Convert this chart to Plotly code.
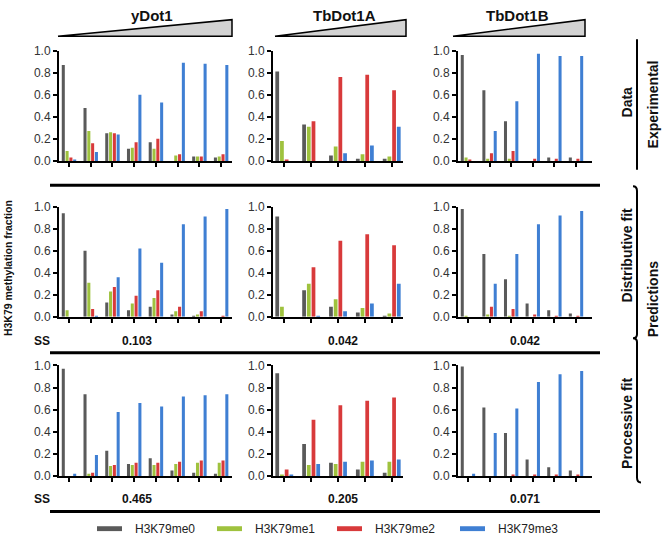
import plotly.graph_objects as go

# ---------------- data ----------------
enzymes = ["yDot1", "TbDot1A", "TbDot1B"]
series_names = ["H3K79me0", "H3K79me1", "H3K79me2", "H3K79me3"]
series_colors = ["#5a5a5a", "#9fc23e", "#d83a3b", "#3f7fd3"]
ss_distributive = ["0.103", "0.042", "0.042"]
ss_processive = ["0.465", "0.205", "0.071"]
y_ticks = [0.0, 0.2, 0.4, 0.6, 0.8, 1.0]

# yDot1 - experimental data
ydot1_data_me0 = [0.87, 0.48, 0.25, 0.11, 0.17, 0.00, 0.04, 0.03]
ydot1_data_me1 = [0.09, 0.27, 0.26, 0.12, 0.11, 0.05, 0.04, 0.04]
ydot1_data_me2 = [0.03, 0.16, 0.25, 0.17, 0.20, 0.06, 0.04, 0.06]
ydot1_data_me3 = [0.01, 0.08, 0.24, 0.60, 0.53, 0.89, 0.88, 0.87]
# TbDot1A - experimental data
tbdot1a_data_me0 = [0.81, 0.33, 0.05, 0.02, 0.02]
tbdot1a_data_me1 = [0.18, 0.31, 0.13, 0.06, 0.04]
tbdot1a_data_me2 = [0.01, 0.36, 0.76, 0.78, 0.64]
tbdot1a_data_me3 = [0.00, 0.00, 0.07, 0.14, 0.31]
# TbDot1B - experimental data
tbdot1b_data_me0 = [0.96, 0.64, 0.36, 0.00, 0.03, 0.03]
tbdot1b_data_me1 = [0.03, 0.02, 0.02, 0.00, 0.00, 0.00]
tbdot1b_data_me2 = [0.01, 0.07, 0.09, 0.02, 0.02, 0.02]
tbdot1b_data_me3 = [0.00, 0.27, 0.54, 0.97, 0.95, 0.95]

# yDot1 - distributive fit
ydot1_dist_me0 = [0.94, 0.60, 0.13, 0.06, 0.09, 0.02, 0.01, 0.00]
ydot1_dist_me1 = [0.06, 0.31, 0.23, 0.12, 0.17, 0.05, 0.02, 0.00]
ydot1_dist_me2 = [0.00, 0.07, 0.27, 0.19, 0.24, 0.09, 0.05, 0.01]
ydot1_dist_me3 = [0.00, 0.01, 0.36, 0.62, 0.49, 0.84, 0.91, 0.98]
# TbDot1A - distributive fit
tbdot1a_dist_me0 = [0.91, 0.24, 0.09, 0.04, 0.01]
tbdot1a_dist_me1 = [0.09, 0.30, 0.16, 0.08, 0.03]
tbdot1a_dist_me2 = [0.00, 0.45, 0.69, 0.75, 0.65]
tbdot1a_dist_me3 = [0.00, 0.01, 0.05, 0.12, 0.30]
# TbDot1B - distributive fit
tbdot1b_dist_me0 = [0.98, 0.57, 0.34, 0.12, 0.06, 0.03]
tbdot1b_dist_me1 = [0.01, 0.02, 0.01, 0.00, 0.00, 0.00]
tbdot1b_dist_me2 = [0.00, 0.09, 0.07, 0.02, 0.01, 0.005]
tbdot1b_dist_me3 = [0.00, 0.30, 0.57, 0.84, 0.92, 0.96]

# yDot1 - processive fit
ydot1_proc_me0 = [0.97, 0.74, 0.23, 0.11, 0.16, 0.05, 0.03, 0.02]
ydot1_proc_me1 = [0.00, 0.02, 0.09, 0.10, 0.10, 0.11, 0.12, 0.12]
ydot1_proc_me2 = [0.00, 0.03, 0.10, 0.12, 0.12, 0.13, 0.14, 0.14]
ydot1_proc_me3 = [0.02, 0.19, 0.58, 0.66, 0.63, 0.72, 0.73, 0.74]
# TbDot1A - processive fit
tbdot1a_proc_me0 = [0.93, 0.29, 0.12, 0.06, 0.03]
tbdot1a_proc_me1 = [0.01, 0.10, 0.11, 0.13, 0.13]
tbdot1a_proc_me2 = [0.06, 0.51, 0.64, 0.68, 0.71]
tbdot1a_proc_me3 = [0.01, 0.11, 0.13, 0.14, 0.15]
# TbDot1B - processive fit
tbdot1b_proc_me0 = [0.99, 0.62, 0.39, 0.15, 0.08, 0.05]
tbdot1b_proc_me1 = [0.00, 0.00, 0.00, 0.00, 0.00, 0.00]
tbdot1b_proc_me2 = [0.00, 0.00, 0.01, 0.01, 0.01, 0.01]
tbdot1b_proc_me3 = [0.02, 0.39, 0.61, 0.85, 0.92, 0.95]

panels = [
    [[ydot1_data_me0, ydot1_data_me1, ydot1_data_me2, ydot1_data_me3],
     [tbdot1a_data_me0, tbdot1a_data_me1, tbdot1a_data_me2, tbdot1a_data_me3],
     [tbdot1b_data_me0, tbdot1b_data_me1, tbdot1b_data_me2, tbdot1b_data_me3]],
    [[ydot1_dist_me0, ydot1_dist_me1, ydot1_dist_me2, ydot1_dist_me3],
     [tbdot1a_dist_me0, tbdot1a_dist_me1, tbdot1a_dist_me2, tbdot1a_dist_me3],
     [tbdot1b_dist_me0, tbdot1b_dist_me1, tbdot1b_dist_me2, tbdot1b_dist_me3]],
    [[ydot1_proc_me0, ydot1_proc_me1, ydot1_proc_me2, ydot1_proc_me3],
     [tbdot1a_proc_me0, tbdot1a_proc_me1, tbdot1a_proc_me2, tbdot1a_proc_me3],
     [tbdot1b_proc_me0, tbdot1b_proc_me1, tbdot1b_proc_me2, tbdot1b_proc_me3]],
]

# ---------------- layout helpers ----------------
W, H = 662, 542
FONT = "Liberation Sans, Arial, sans-serif"


def X(px):
    return px / W


def Y(py):
    return 1 - py / H


col_px = [(59, 232), (273, 403), (458, 592)]
row_px = [(44.7, 158), (205, 318), (368, 481.5)]
col_xrange_end_pad = [0.5, 0.42, 0.74]
col_xrange_start_pad = [0.46, 0.42, 0.46]

fig = go.Figure()

for r in range(3):
    for c in range(3):
        idx = r * 3 + c + 1
        xa = "x" if idx == 1 else f"x{idx}"
        ya = "y" if idx == 1 else f"y{idx}"
        series = panels[r][c]
        n = len(series[0])
        for s, vals in enumerate(series):
            fig.add_trace(go.Bar(
                x=list(range(n)), y=vals, name=series_names[s],
                marker=dict(color=series_colors[s], line=dict(width=0)),
                xaxis=xa, yaxis=ya, showlegend=False,
            ))
        axis_common = dict(showline=True, linecolor="black", linewidth=2,
                           ticks="outside", ticklen=4, tickwidth=2,
                           tickcolor="black", showgrid=False, zeroline=False)
        fig.layout[f"xaxis{idx}" if idx > 1 else "xaxis"] = dict(
            domain=[X(col_px[c][0]), X(col_px[c][1])],
            anchor=ya, range=[-col_xrange_start_pad[c], n - 1 + col_xrange_end_pad[c]],
            tickvals=list(range(n)), showticklabels=False, **axis_common)
        fig.layout[f"yaxis{idx}" if idx > 1 else "yaxis"] = dict(
            domain=[Y(row_px[r][1]), Y(row_px[r][0])],
            anchor=xa, range=[0, 1.0], tickvals=y_ticks, tickformat=".1f",
            tickfont=dict(family=FONT, size=12, color="#333333"), **axis_common)

annotations = []
shapes = []


def text(px, py, t, size, anchor="center", angle=0, color="#111111"):
    annotations.append(dict(x=X(px), y=Y(py), xref="paper", yref="paper", text=t,
                            textangle=angle, showarrow=False, xanchor=anchor,
                            yanchor="middle",
                            font=dict(family=FONT, size=size, color=color)))


# column titles and wedges
title_x = [152, 344, 517]
wedge_px = [(58, 232), (275, 406), (453, 585)]
for c in range(3):
    text(title_x[c], 8.5, f"<b>{enzymes[c]}</b>", 15)
    x0, x1 = wedge_px[c]
    shapes.append(dict(type="path", xref="paper", yref="paper",
                       path=f"M {X(x0)} {Y(30)} L {X(x1)} {Y(30)} L {X(x1)} {Y(13)} Z",
                       fillcolor="#d3d3d3", line=dict(color="black", width=1.5)))

# separator lines
for py in [183, 355, 518]:
    shapes.append(dict(type="line", xref="paper", yref="paper",
                       x0=X(50), x1=X(600), y0=Y(py), y1=Y(py),
                       line=dict(color="black", width=3)))

# SS rows
ss_x = [137, 343, 525]
for py, vals in [(343, ss_distributive), (505, ss_processive)]:
    text(42, py, "<b>SS</b>", 12)
    for c in range(3):
        text(ss_x[c], py, f"<b>{vals[c]}</b>", 12)

# y axis title
text(8, 268, "<b>H3K79 methylation fraction</b>", 10.5, angle=-90)

# right side labels
right_labels = [(627, 98, "Data"), (653, 100, "Experimental"),
                (627, 255, "Distributive fit"), (627, 428, "Processive fit"),
                (653, 300, "Predictions")]
for px, py, t in right_labels:
    text(px, py, f"<b>{t}</b>", 14, angle=-90)
shapes.append(dict(type="line", xref="paper", yref="paper", x0=X(637), x1=X(637),
                   y0=Y(33), y1=Y(167), line=dict(color="black", width=2)))
shapes.append(dict(type="path", xref="paper", yref="paper",
                   path=(f"M {X(633)} {Y(184)} Q {X(637)} {Y(184)} {X(637)} {Y(189)} "
                         f"L {X(637)} {Y(336)} Q {X(637)} {Y(340)} {X(633)} {Y(340)} "
                         f"Q {X(637)} {Y(340)} {X(637)} {Y(344)} "
                         f"L {X(637)} {Y(483)} Q {X(637)} {Y(488)} {X(641)} {Y(488)}"),
                   line=dict(color="black", width=2)))

# legend
leg_x = [97, 217, 337, 460]
for s in range(4):
    shapes.append(dict(type="rect", xref="paper", yref="paper",
                       x0=X(leg_x[s]), x1=X(leg_x[s] + 25), y0=Y(538), y1=Y(533),
                       fillcolor=series_colors[s], line=dict(width=0)))
    text(leg_x[s] + 36, 535.5, series_names[s], 12, anchor="left", color="#222222")

fig.update_layout(
    width=W, height=H, margin=dict(l=0, r=0, t=0, b=0),
    paper_bgcolor="white", plot_bgcolor="white",
    barmode="group", bargap=0.3, bargroupgap=0.2,
    showlegend=False, annotations=annotations, shapes=shapes,
)

fig.write_html("out.html", config={"displayModeBar": False},
               post_script="document.body.style.margin='0px';document.body.style.padding='0px';")
